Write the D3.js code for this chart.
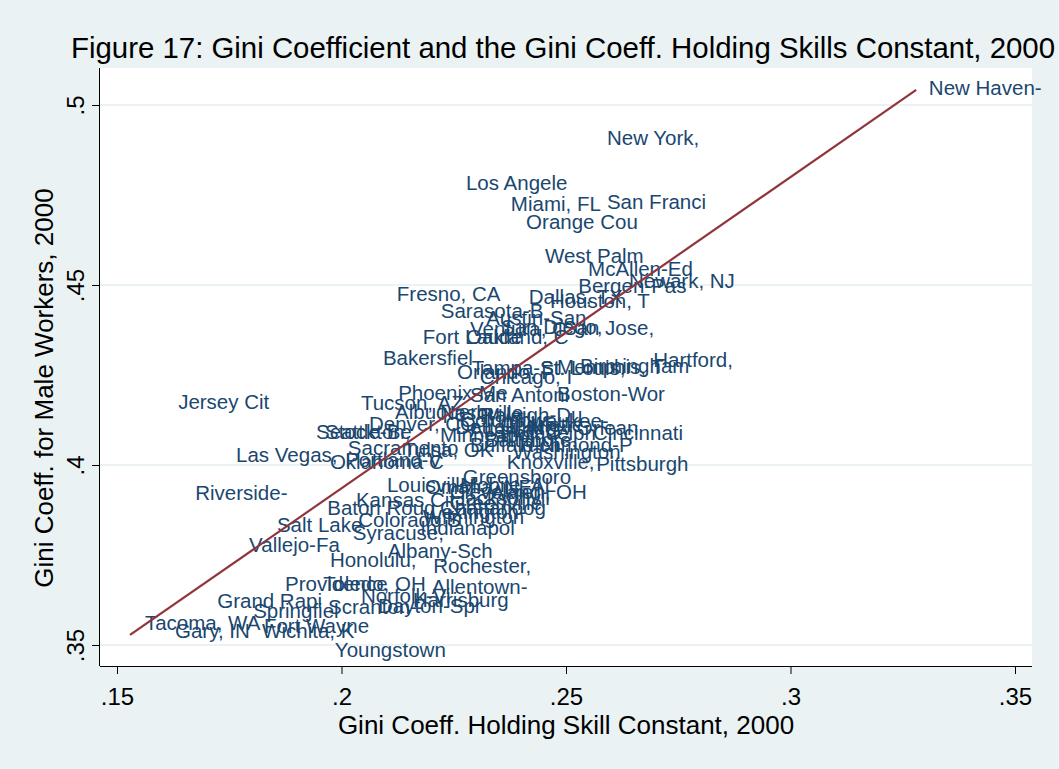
<!DOCTYPE html>
<html>
<head>
<meta charset="utf-8">
<script src="https://cdn.jsdelivr.net/npm/d3@7"></script>
<style>
body { margin: 0; background: #eaf2f3; }
text { font-family: "Liberation Sans", Arial, sans-serif; }
</style>
</head>
<body>
<div id="chart"></div>
<script>
// city labels (truncated to 10 chars, as in the original)
var cities = ["New Haven-","New York,","Los Angele","Miami, FL","San Franci","Orange Cou","West Palm",
"McAllen-Ed","Bergen-Pas","Newark, NJ","Fresno, CA","Dallas, TX","Houston, T","Sarasota-B","Austin-San",
"San Diego,","San Jose,","Ventura, C","Fort Laude","Oakland, C","Bakersfiel","Hartford,","Tampa-St.",
"St. Louis,","Memphis, T","Birmingham","Orlando, F","Chicago, I","Phoenix-Me","San Antoni","Boston-Wor",
"Jersey Cit","Tucson, AZ","Albuquerqu","Denver, CO","Seattle-Be","Stockton, ","Sacramento","Tulsa, OK",
"Las Vegas,","Oklahoma C","Portland-V","Cincinnati","Washington","Knoxville,","Pittsburgh","Greensboro",
"Louisville","Omaha, NE","Cleveland-","Akron, OH","Kansas Cit","Baton Roug","Greenville","Colorado S",
"Wilmington","Indianapol","Syracuse,","Salt Lake","Vallejo-Fa","Riverside-","Albany-Sch","Honolulu,",
"Rochester,","Providence","Toledo, OH","Allentown-","Grand Rapi","Norfolk-Vi","Harrisburg","Scranton--",
"Dayton-Spr","Springfiel","Tacoma, WA","Fort Wayne","Gary, IN","Wichita, K","Youngstown",
"Nashville","Raleigh-Du","Columbus, ","Milwaukee-","Charlotte-","Detroit, M","New Orlean","Atlanta, G",
"Philadelph","Minneapoli","Baltimore,","Buffalo-Ni","Richmond-P","Mobile, AL","Jacksonvil","Chattanoog",
"Lexington-"];

// Gini coeff. holding skill constant
var giniSkill = [0.3277,0.2560,0.2246,0.2346,0.2560,0.2380,0.2422,
0.2518,0.2496,0.2609,0.2092,0.2386,0.2433,0.2190,0.2291,
0.2324,0.2462,0.2255,0.2150,0.2246,0.2061,0.2663,0.2259,
0.2411,0.2449,0.2500,0.2226,0.2277,0.2095,0.2255,0.2449,
0.1605,0.2012,0.2088,0.2030,0.1912,0.1932,0.1983,0.2106,
0.1734,0.1943,0.1977,0.2529,0.2351,0.2337,0.2536,0.2239,
0.2070,0.2155,0.2210,0.2302,0.2001,0.1937,0.2210,0.2006,
0.2150,0.2144,0.1994,0.1825,0.1763,0.1643,0.2072,0.1943,
0.2173,0.1843,0.1928,0.2170,0.1692,0.2012,0.2128,0.1939,
0.2050,0.1772,0.1531,0.1796,0.1598,0.1792,0.1954,
0.2188,0.2277,0.2233,0.2333,0.2322,0.2222,0.2389,0.2255,
0.2322,0.2188,0.2288,0.2255,0.2366,0.2233,0.2222,0.2188,
0.2166];

// Gini coeff. for male workers
var giniMale = [0.5047,0.4908,0.4783,0.4725,0.4731,0.4675,0.4581,
0.4544,0.4497,0.4511,0.4475,0.4467,0.4456,0.4428,0.4408,
0.4383,0.4381,0.4378,0.4356,0.4356,0.4297,0.4292,0.4269,
0.4269,0.4272,0.4275,0.4258,0.4244,0.4200,0.4194,0.4197,
0.4175,0.4172,0.4147,0.4114,0.4092,0.4092,0.4047,0.4042,
0.4028,0.4008,0.4014,0.4089,0.4036,0.4008,0.4003,0.3967,
0.3944,0.3939,0.3925,0.3925,0.3903,0.3881,0.3894,0.3847,
0.3856,0.3825,0.3811,0.3833,0.3778,0.3922,0.3761,0.3736,
0.3719,0.3669,0.3669,0.3661,0.3622,0.3636,0.3625,0.3606,
0.3608,0.3594,0.3561,0.3553,0.3539,0.3539,0.3486,
0.4144,0.4139,0.4125,0.4122,0.4111,0.4106,0.4103,0.4097,
0.4089,0.4083,0.4069,0.4056,0.4056,0.3944,0.3908,0.3881,
0.3869];

// linear fit endpoints
var fitX = [0.1529, 0.3280];
var fitY = [0.3528, 0.5042];

var xTicks = [0.15, 0.2, 0.25, 0.3, 0.35];
var xTickLabels = [".15", ".2", ".25", ".3", ".35"];
var yTicks = [0.35, 0.4, 0.45, 0.5];
var yTickLabels = [".35", ".4", ".45", ".5"];

var W = 1059, H = 769;
var plot = {left: 100, right: 1032, top: 68, bottom: 666};

var svg = d3.select("#chart")
.append("svg")
.attr("width", W)
.attr("height", H);

svg.append("rect").attr("width", W).attr("height", H).attr("fill", "#eaf2f3");
svg.append("rect")
.attr("x", plot.left).attr("y", plot.top)
.attr("width", plot.right - plot.left).attr("height", plot.bottom - plot.top)
.attr("fill", "#ffffff");

var x = d3.scaleLinear().domain([0.15, 0.35]).range([117, 1015]);
var y = d3.scaleLinear().domain([0.35, 0.5]).range([645, 105]);

// gridlines
svg.append("g")
.selectAll("line")
.data(yTicks)
.enter()
.append("line")
  .attr("x1", plot.left).attr("x2", plot.right)
  .attr("y1", function (d) { return y(d); })
  .attr("y2", function (d) { return y(d); })
  .attr("stroke", "#eaf2f3")
  .attr("stroke-width", 2);

// X axis
var xAxis = svg.append("g")
.attr("transform", "translate(0," + plot.bottom + ")")
.call(d3.axisBottom(x).tickValues(xTicks).tickSize(8).tickPadding(14)
  .tickFormat(function (d, i) { return xTickLabels[i]; }));
xAxis.select(".domain").attr("d", "M" + plot.left + ",0.5H" + plot.right);
xAxis.selectAll("text").attr("font-size", 24).attr("fill", "#000").attr("font-family", "Liberation Sans, Arial");
xAxis.selectAll("line").attr("stroke", "#000");

// Y axis
var yAxis = svg.append("g")
.attr("transform", "translate(" + plot.left + ",0)")
.call(d3.axisLeft(y).tickValues(yTicks).tickSize(8).tickFormat(function (d, i) { return yTickLabels[i]; }));
yAxis.select(".domain").attr("d", "M-0.5," + plot.top + "V" + plot.bottom);
yAxis.selectAll("text")
  .attr("font-size", 24).attr("fill", "#000").attr("font-family", "Liberation Sans, Arial")
  .attr("x", null).attr("dy", null)
  .attr("text-anchor", "middle")
  .attr("transform", "translate(-16,0) rotate(-90)");
yAxis.selectAll("line").attr("stroke", "#000");

// titles
svg.append("text")
.attr("x", 563).attr("y", 58)
.attr("text-anchor", "middle")
.attr("font-size", 29.4)
.text("Figure 17: Gini Coefficient and the Gini Coeff. Holding Skills Constant, 2000");

svg.append("text")
.attr("x", 566).attr("y", 734)
.attr("text-anchor", "middle")
.attr("font-size", 26)
.text("Gini Coeff. Holding Skill Constant, 2000");

svg.append("text")
.attr("transform", "translate(53,388) rotate(-90)")
.attr("text-anchor", "middle")
.attr("font-size", 26)
.text("Gini Coeff. for Male Workers, 2000");

// city labels
svg.append("g")
.selectAll("text")
.data(cities)
.enter()
.append("text")
  .attr("x", function (d, i) { return x(giniSkill[i]) + 14; })
  .attr("y", function (d, i) { return y(giniMale[i]); })
  .attr("dy", "0.35em")
  .attr("font-size", 20.5)
  .attr("fill", "#1a476f")
  .text(function (d) { return d; });

// fitted line
svg.append("line")
.attr("x1", x(fitX[0])).attr("y1", y(fitY[0]))
.attr("x2", x(fitX[1])).attr("y2", y(fitY[1]))
.attr("stroke", "#90353b")
.attr("stroke-width", 2.2);
</script>
</body>
</html>
